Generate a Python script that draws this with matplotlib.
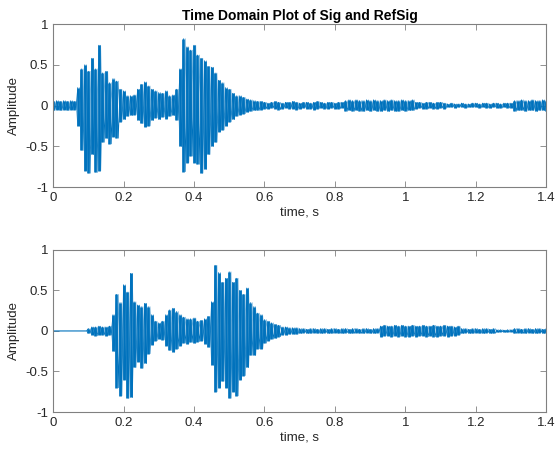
""" plot.py

time domain plot of Sig and RefSig, drawn as a peak envelope
(max / min of the waveform per 10 ms, read off the original chart)
"""

import numpy as np
import matplotlib
matplotlib.use('Agg')
import matplotlib.pyplot as plt
from matplotlib.ticker import FormatStrFormatter

# time of each 10 ms bin, s
t_bins = [round(0.01 * i, 2) for i in range(141)]

# Sig: peak high / low per bin
sig_hi = [0.05, 0.06, 0.05, 0.06, 0.05, 0.06, 0.05, 0.22, 0.45, 0.50,
          0.42, 0.58, 0.45, 0.74, 0.40, 0.42, 0.28, 0.33, 0.30, 0.20,
          0.18, 0.12, 0.12, 0.13, 0.20, 0.26, 0.29, 0.24, 0.20, 0.18,
          0.16, 0.15, 0.18, 0.12, 0.13, 0.20, 0.45, 0.82, 0.72, 0.68,
          0.74, 0.62, 0.58, 0.55, 0.48, 0.47, 0.40, 0.31, 0.28, 0.22,
          0.20, 0.15, 0.12, 0.12, 0.10, 0.08, 0.07, 0.06, 0.05, 0.05,
          0.04, 0.03, 0.04, 0.05, 0.04, 0.03, 0.04, 0.04, 0.05, 0.04,
          0.03, 0.04, 0.04, 0.03, 0.04, 0.05, 0.04, 0.03, 0.04, 0.04,
          0.03, 0.04, 0.04, 0.06, 0.07, 0.06, 0.07, 0.06, 0.06, 0.07,
          0.06, 0.07, 0.06, 0.06, 0.07, 0.06, 0.07, 0.06, 0.06, 0.07,
          0.06, 0.06, 0.07, 0.04, 0.04, 0.03, 0.04, 0.04, 0.03, 0.04,
          0.04, 0.03, 0.02, 0.03, 0.02, 0.02, 0.03, 0.02, 0.02, 0.03,
          0.03, 0.02, 0.03, 0.03, 0.02, 0.03, 0.03, 0.02, 0.03, 0.03,
          0.03, 0.06, 0.06, 0.07, 0.06, 0.06, 0.07, 0.06, 0.06, 0.07,
          0.06]
sig_lo = [-0.06, -0.05, -0.06, -0.05, -0.06, -0.05, -0.05, -0.25, -0.55, -0.80,
          -0.83, -0.60, -0.82, -0.80, -0.45, -0.40, -0.47, -0.38, -0.40, -0.20,
          -0.17, -0.13, -0.12, -0.11, -0.18, -0.22, -0.26, -0.25, -0.18, -0.15,
          -0.17, -0.14, -0.16, -0.13, -0.12, -0.18, -0.50, -0.81, -0.70, -0.62,
          -0.70, -0.72, -0.83, -0.78, -0.60, -0.50, -0.45, -0.32, -0.30, -0.25,
          -0.20, -0.17, -0.13, -0.11, -0.10, -0.08, -0.07, -0.06, -0.06, -0.05,
          -0.04, -0.04, -0.03, -0.04, -0.05, -0.04, -0.03, -0.04, -0.04, -0.05,
          -0.04, -0.03, -0.04, -0.04, -0.05, -0.04, -0.03, -0.04, -0.04, -0.03,
          -0.04, -0.04, -0.03, -0.07, -0.06, -0.07, -0.06, -0.07, -0.07, -0.06,
          -0.07, -0.06, -0.07, -0.07, -0.06, -0.07, -0.06, -0.07, -0.07, -0.06,
          -0.07, -0.06, -0.06, -0.04, -0.03, -0.04, -0.04, -0.03, -0.04, -0.04,
          -0.03, -0.04, -0.02, -0.02, -0.03, -0.02, -0.02, -0.03, -0.02, -0.02,
          -0.02, -0.03, -0.02, -0.03, -0.03, -0.02, -0.03, -0.03, -0.02, -0.03,
          -0.03, -0.07, -0.06, -0.06, -0.07, -0.06, -0.06, -0.07, -0.06, -0.06,
          -0.07]

# RefSig: peak high / low per bin (zero before 0.1 s)
ref_hi = [0.0, 0.0, 0.0, 0.0, 0.0, 0.0, 0.0, 0.0, 0.0, 0.0,
          0.03, 0.05, 0.05, 0.06, 0.05, 0.05, 0.06, 0.20, 0.45, 0.35,
          0.57, 0.48, 0.71, 0.36, 0.32, 0.30, 0.34, 0.30, 0.20, 0.12,
          0.10, 0.12, 0.20, 0.26, 0.28, 0.24, 0.20, 0.17, 0.15, 0.15,
          0.16, 0.12, 0.13, 0.15, 0.18, 0.36, 0.81, 0.72, 0.60, 0.65,
          0.73, 0.60, 0.65, 0.50, 0.45, 0.53, 0.35, 0.30, 0.22, 0.20,
          0.14, 0.12, 0.10, 0.08, 0.07, 0.05, 0.05, 0.04, 0.04, 0.04,
          0.03, 0.03, 0.02, 0.03, 0.03, 0.02, 0.03, 0.03, 0.02, 0.03,
          0.03, 0.02, 0.03, 0.03, 0.02, 0.03, 0.03, 0.02, 0.03, 0.03,
          0.02, 0.03, 0.03, 0.06, 0.07, 0.06, 0.06, 0.07, 0.06, 0.07,
          0.06, 0.06, 0.07, 0.06, 0.06, 0.07, 0.06, 0.06, 0.07, 0.06,
          0.06, 0.07, 0.06, 0.06, 0.05, 0.06, 0.03, 0.03, 0.02, 0.03,
          0.03, 0.02, 0.03, 0.03, 0.02, 0.03, 0.015, 0.015, 0.01, 0.015,
          0.015, 0.03, 0.03, 0.02, 0.03, 0.03, 0.02, 0.03, 0.03, 0.02,
          0.03]
ref_lo = [0.0, 0.0, 0.0, 0.0, 0.0, 0.0, 0.0, 0.0, 0.0, 0.0,
          -0.03, -0.05, -0.06, -0.05, -0.05, -0.06, -0.05, -0.25, -0.70, -0.80,
          -0.60, -0.83, -0.82, -0.45, -0.38, -0.46, -0.40, -0.28, -0.17, -0.12,
          -0.10, -0.11, -0.18, -0.24, -0.26, -0.22, -0.18, -0.15, -0.16, -0.14,
          -0.15, -0.13, -0.12, -0.16, -0.20, -0.42, -0.75, -0.70, -0.62, -0.70,
          -0.83, -0.75, -0.80, -0.60, -0.55, -0.45, -0.30, -0.30, -0.22, -0.22,
          -0.15, -0.12, -0.10, -0.09, -0.07, -0.05, -0.05, -0.04, -0.04, -0.04,
          -0.03, -0.02, -0.03, -0.03, -0.02, -0.03, -0.03, -0.02, -0.03, -0.03,
          -0.02, -0.03, -0.03, -0.02, -0.03, -0.03, -0.02, -0.03, -0.03, -0.02,
          -0.03, -0.03, -0.02, -0.07, -0.06, -0.06, -0.07, -0.06, -0.07, -0.06,
          -0.07, -0.07, -0.06, -0.07, -0.06, -0.06, -0.07, -0.06, -0.07, -0.07,
          -0.06, -0.06, -0.07, -0.06, -0.06, -0.05, -0.03, -0.02, -0.03, -0.03,
          -0.02, -0.03, -0.03, -0.02, -0.03, -0.03, -0.015, -0.01, -0.015, -0.015,
          -0.01, -0.03, -0.02, -0.03, -0.03, -0.02, -0.03, -0.03, -0.02, -0.03,
          -0.03]

x_ticks = [0, 0.2, 0.4, 0.6, 0.8, 1.0, 1.2, 1.4]
y_ticks = [-1, -0.5, 0, 0.5, 1]

LINE_COLOR = '#0072BD'     # matlab default blue
TEXT_COLOR = '#262626'

plt.rcParams['font.family'] = ['Liberation Sans', 'DejaVu Sans']
plt.rcParams['font.size'] = 9.5


def zigzag(t, a, b):
    """go a -> b inside each bin so the envelope draws as a dense waveform"""
    t = np.asarray(t)
    x = np.column_stack([t, t + 0.005]).ravel()
    y = np.column_stack([a, b]).ravel()
    return x, y


def draw_wave(ax, t, hi, lo):
    """vertical stroke per bin plus two crossing zigzags -> dense, spiky look"""
    ax.vlines(t, lo, hi, color=LINE_COLOR, linewidth=1.9)
    x, y = zigzag(t, hi, lo)
    ax.plot(x, y, color=LINE_COLOR, linewidth=0.6)
    x, y = zigzag(t, lo, hi)
    ax.plot(x, y, color=LINE_COLOR, linewidth=0.5, alpha=0.7)


def style_axes(ax):
    ax.set_xlim(0, 1.4)
    ax.set_ylim(-1, 1)
    ax.set_xticks(x_ticks)
    ax.set_yticks(y_ticks)
    ax.xaxis.set_major_formatter(FormatStrFormatter('%g'))
    ax.yaxis.set_major_formatter(FormatStrFormatter('%g'))
    ax.tick_params(direction='in', length=4, width=0.6, labelcolor=TEXT_COLOR,
                   top=True, right=True, labeltop=False, labelright=False,
                   color='#808080')
    for sp in ax.spines.values():
        sp.set_color('#808080')
        sp.set_linewidth(0.8)
    ax.set_xlabel('time, s', color=TEXT_COLOR, labelpad=2)
    ax.set_ylabel('Amplitude', color=TEXT_COLOR, labelpad=4)


fig = plt.figure(figsize=(5.59, 4.54), dpi=100)
ax1 = fig.add_axes([0.095, 0.588, 0.882, 0.359])
ax2 = fig.add_axes([0.095, 0.0925, 0.882, 0.357])

draw_wave(ax1, t_bins, sig_hi, sig_lo)
style_axes(ax1)
ax1.set_title('Time Domain Plot of Sig and RefSig', fontweight='bold',
              fontsize=10, color='black', pad=3)

draw_wave(ax2, t_bins, ref_hi, ref_lo)
style_axes(ax2)

fig.savefig('out.png', dpi=100)
